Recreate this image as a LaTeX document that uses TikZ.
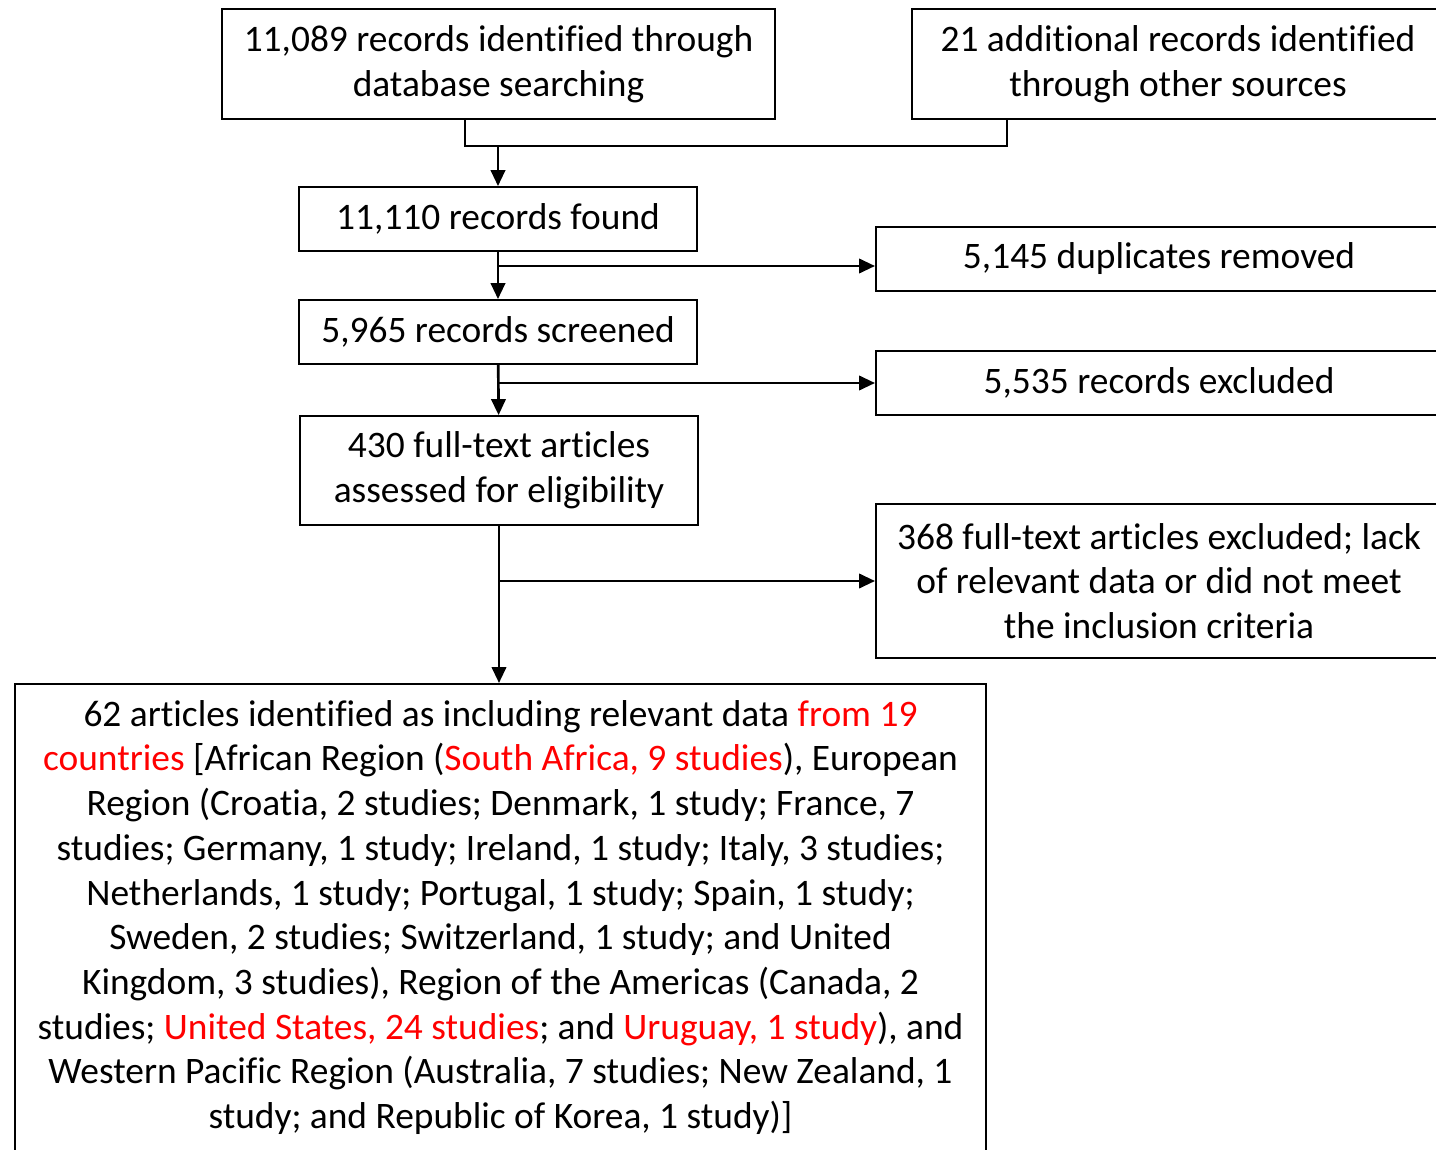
\documentclass[tikz,border=0pt]{standalone}
\usepackage{fontspec}
\setmainfont[Ligatures=NoCommon]{Carlito}
\usepackage{tikz}
\usetikzlibrary{arrows.meta,positioning}

\begin{document}
\begin{tikzpicture}[
				x=0.025cm, y=-0.025cm,
				box/.style={
					rectangle,
					draw=black,
					line width=1.3pt,
					align=center,
					inner sep=0pt,
					font=\fontsize{26.6}{31.8}\selectfont
				},
				link/.style={line width=1.9pt,draw=black},
				arrow/.style={-{Triangle[length=4mm,width=3.6mm]},line width=1.9pt,draw=black}
				]
				\useasboundingbox (0,0) rectangle (1436,1150);
				% identification
				\node[box, minimum width=13.825cm, minimum height=2.75cm] (db) at (498.5,64) {11,089 records identified through\\database searching};
				\node[box, minimum width=13.3cm, minimum height=2.75cm] (other) at (1178,64) {21 additional records identified\\through other sources};
				\node[box, minimum width=9.95cm, minimum height=1.6cm] (found) at (498,219) {11,110 records found};
				\node[box, minimum width=14.15cm, minimum height=1.6cm] (dup) at (1159,259) {5,145 duplicates removed};
				% screening
				\node[box, minimum width=9.95cm, minimum height=1.6cm] (screened) at (498,332) {5,965 records screened};
				\node[box, minimum width=14.15cm, minimum height=1.6cm] (excl) at (1159,383) {5,535 records excluded};
				% eligibility
				\node[box, minimum width=9.95cm, minimum height=2.725cm] (fulltext) at (499,470.5) {430 full-text articles\\assessed for eligibility};
				\node[box, minimum width=14.15cm, minimum height=3.85cm] (fullexcl) at (1159,581) {368 full-text articles excluded; lack\\of relevant data or did not meet\\the inclusion criteria};
				% included
				\node[box, minimum width=24.275cm, minimum height=11.675cm] (incl) at (500.5,917.5) {62 articles identified as including relevant data \textcolor{red}{from 19}\\
					\textcolor{red}{countries} [African Region (\textcolor{red}{South Africa, 9 studies}), European\\
					Region (Croatia, 2 studies; Denmark, 1 study; France, 7\\
					studies; Germany, 1 study; Ireland, 1 study; Italy, 3 studies;\\
					Netherlands, 1 study; Portugal, 1 study; Spain, 1 study;\\
					Sweden, 2 studies; Switzerland, 1 study; and United\\
					Kingdom, 3 studies), Region of the Americas (Canada, 2\\
					studies; \textcolor{red}{United States, 24 studies}; and \textcolor{red}{Uruguay, 1 study}), and\\
					Western Pacific Region (Australia, 7 studies; New Zealand, 1\\
					study; and Republic of Korea, 1 study)]};
				
				\coordinate (merge) at (498,146);
				\coordinate (split1) at (498,266);
				
				\draw[link] ([xshift=-0.84cm]db.south) |- (merge) -| ([xshift=-4.275cm]other.south);
				\draw[arrow] (merge) -- (found);
				\draw[arrow] (found) -- (screened);
				\draw[arrow] (split1) -- (split1 -| dup.west);
				\draw[arrow] (screened) -- (fulltext);
				\draw[arrow] (screened.south |- excl.west) -- (excl.west);
				\draw[arrow] (fulltext) -- (fulltext.south |- incl.north);
				\draw[arrow] (fulltext.south |- fullexcl.west) -- (fullexcl.west);
		\end{tikzpicture}
\end{document}
